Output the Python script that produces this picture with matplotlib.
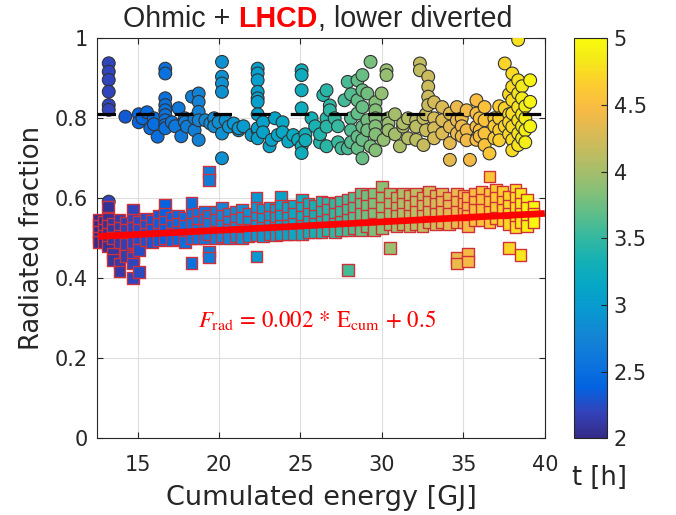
import matplotlib
matplotlib.use("Agg")
import matplotlib.pyplot as plt
import numpy as np
from matplotlib.colors import LinearSegmentedColormap, Normalize

# ---------------- data ----------------
# circles (upper cluster): column energy [GJ], time [h], radiated fractions
circ_E = [13.23, 14.25, 15.07, 15.3, 15.58, 15.78, 16.0, 16.23, 16.7, 17.1, 17.3, 17.52, 17.68,
          17.9, 18.03, 18.34, 18.5, 18.75, 19.16, 19.46, 19.7, 19.97, 20.18, 20.4, 20.6, 20.9,
          21.2, 21.5, 22.0, 22.37, 22.7, 23.1, 23.23, 23.43, 23.6, 23.9, 24.25, 24.55, 24.85,
          25.07, 25.3, 25.68, 25.9, 26.2, 26.4, 26.6, 26.8, 27.1, 27.3, 27.52, 27.7, 27.9,
          28.1, 28.5, 28.8, 29.1, 29.3, 29.6, 29.98, 30.1, 30.28, 30.4, 30.8, 31.1, 31.3,
          31.6, 32.1, 32.33, 32.55, 32.7, 32.84, 33.2, 33.7, 34.17, 34.6, 34.9, 35.2, 35.4,
          35.8, 36.0, 36.3, 36.6, 36.9, 37.2, 37.54, 37.8, 38.0, 38.36, 38.6, 38.8, 39.1]
circ_t = [2.2, 2.33, 2.42, 2.44, 2.46, 2.48, 2.5, 2.51, 2.55, 2.58, 2.6, 2.62, 2.63,
          2.65, 2.66, 2.68, 2.7, 2.73, 2.78, 2.8, 2.83, 2.86, 2.88, 2.9, 2.92, 2.95,
          2.97, 3.0, 3.03, 3.05, 3.08, 3.1, 3.1, 3.12, 3.13, 3.15, 3.18, 3.2, 3.22,
          3.25, 3.28, 3.32, 3.35, 3.4, 3.42, 3.45, 3.47, 3.5, 3.52, 3.55, 3.58, 3.6,
          3.63, 3.7, 3.73, 3.78, 3.8, 3.85, 3.9, 3.92, 3.93, 3.95, 4.0, 4.03, 4.05,
          4.08, 4.12, 4.15, 4.17, 4.18, 4.2, 4.25, 4.3, 4.35, 4.38, 4.41, 4.44, 4.45,
          4.5, 4.52, 4.55, 4.58, 4.62, 4.66, 4.7, 4.73, 4.75, 4.8, 4.84, 4.88, 4.92]
circ_vals = [
    [0.9375, 0.9165, 0.896, 0.8665, 0.833, 0.821, 0.5915], [0.804], [0.81, 0.79], [0.80],
    [0.815], [0.775], [0.80, 0.785], [0.754],
    [0.924, 0.912, 0.85, 0.833, 0.82, 0.808, 0.795, 0.783, 0.775], [0.79], [0.78], [0.825], [0.755],
    [0.80, 0.79], [0.779], [0.854], [0.77, 0.80],
    [0.862, 0.841, 0.816, 0.795, 0.746], [0.795], [0.787], [0.80, 0.78], [0.79],
    [0.941, 0.904, 0.887, 0.866, 0.762, 0.70], [0.795], [0.779], [0.787],
    [0.77, 0.775], [0.78], [0.758],
    [0.924, 0.912, 0.895, 0.866, 0.85, 0.841, 0.81, 0.77, 0.775, 0.75], [0.79, 0.765],
    [0.73], [0.746], [0.80], [0.758], [0.79, 0.765], [0.742], [0.758], [0.746],
    [0.92, 0.908, 0.87, 0.825, 0.73, 0.713], [0.76, 0.745], [0.80], [0.78], [0.74, 0.76],
    [0.858], [0.87, 0.80, 0.779, 0.73], [0.832, 0.82], [0.80], [0.78, 0.74],
    [0.725], [0.845], [0.891, 0.725],
    [0.86, 0.80, 0.77, 0.74], [0.895, 0.845, 0.812, 0.754, 0.725],
    [0.908, 0.87, 0.828, 0.779, 0.746, 0.70], [0.862, 0.795, 0.77], [0.941, 0.73],
    [0.84, 0.82, 0.80, 0.78, 0.76, 0.72], [0.862], [0.746], [0.92, 0.908], [0.80, 0.787, 0.77],
    [0.81, 0.76], [0.73], [0.779, 0.787],
    [0.80, 0.75], [0.795, 0.779, 0.746], [0.937, 0.92], [0.80, 0.733], [0.77, 0.81],
    [0.904, 0.879, 0.854, 0.833], [0.84, 0.80, 0.775, 0.75], [0.828, 0.795, 0.762],
    [0.812, 0.779, 0.738, 0.696], [0.828, 0.795, 0.762], [0.80, 0.78, 0.755],
    [0.82, 0.77, 0.745], [0.696],
    [0.845, 0.812, 0.779, 0.746], [0.80, 0.77, 0.755], [0.828, 0.795, 0.762, 0.733], [0.712],
    [0.80, 0.78, 0.75], [0.83, 0.80, 0.77, 0.745],
    [0.937, 0.825, 0.78], [0.86, 0.81, 0.79, 0.76], [0.912, 0.879, 0.845, 0.812, 0.779, 0.746, 0.72],
    [0.996, 0.895, 0.862, 0.828, 0.795, 0.762, 0.733], [0.88, 0.85, 0.81, 0.78, 0.75],
    [0.83, 0.80, 0.77, 0.74], [0.895, 0.841, 0.78],
]

# squares (lower cluster): column energy [GJ], time [h], radiated fractions
sq_E = [12.6, 12.9, 13.2, 13.5, 13.9, 14.3, 14.7, 15.1, 15.5, 15.9, 16.3, 16.7, 17.1, 17.5,
        17.9, 18.3, 18.7, 19.1, 19.4, 19.8, 20.2, 20.6, 21.0, 21.4, 21.8, 22.3, 22.7, 23.1,
        23.5, 23.8, 24.2, 24.6, 25.1, 25.5, 25.9, 26.3, 26.7, 27.1, 27.5, 27.9, 28.3, 28.7,
        29.1, 29.5, 30.0, 30.5, 30.9, 31.3, 31.7, 32.1, 32.5, 32.9, 33.3, 33.7, 34.1, 34.6,
        35.0, 35.3, 35.7, 36.1, 36.6, 37.0, 37.4, 37.8, 38.2, 38.5, 38.9, 39.3]
sq_t = [2.0, 2.03, 2.06, 2.1, 2.13, 2.16, 2.2, 2.24, 2.27, 2.3, 2.34, 2.38, 2.42, 2.46,
        2.5, 2.54, 2.58, 2.62, 2.66, 2.7, 2.74, 2.78, 2.82, 2.86, 2.9, 2.95, 2.99, 3.03,
        3.07, 3.1, 3.14, 3.18, 3.23, 3.28, 3.33, 3.38, 3.43, 3.48, 3.53, 3.58, 3.64, 3.7,
        3.76, 3.82, 3.88, 3.94, 3.99, 4.04, 4.08, 4.12, 4.16, 4.2, 4.24, 4.3, 4.34, 4.38,
        4.42, 4.45, 4.5, 4.54, 4.58, 4.63, 4.68, 4.73, 4.78, 4.83, 4.9, 4.97]
sq_vals = [
    [0.545, 0.53, 0.515, 0.50, 0.49], [0.54, 0.522, 0.505, 0.49],
    [0.579, 0.548, 0.53, 0.512, 0.495, 0.479], [0.535, 0.52, 0.50, 0.462, 0.445],
    [0.545, 0.525, 0.505, 0.49, 0.437, 0.417], [0.538, 0.52, 0.50, 0.485, 0.455],
    [0.572, 0.545, 0.525, 0.49, 0.452, 0.437, 0.40], [0.54, 0.52, 0.50, 0.47, 0.415],
    [0.548, 0.53, 0.51, 0.495], [0.543, 0.522, 0.50, 0.49],
    [0.555, 0.535, 0.512, 0.496], [0.584, 0.56, 0.54, 0.52, 0.50],
    [0.55, 0.53, 0.51, 0.495], [0.556, 0.535, 0.515, 0.498],
    [0.55, 0.53, 0.505, 0.49], [0.588, 0.558, 0.535, 0.50, 0.4375],
    [0.56, 0.54, 0.52, 0.50], [0.565, 0.545, 0.52, 0.50],
    [0.666, 0.646, 0.555, 0.535, 0.51, 0.467, 0.452], [0.565, 0.545, 0.515, 0.50],
    [0.575, 0.555, 0.53, 0.505], [0.56, 0.54, 0.52, 0.50],
    [0.565, 0.545, 0.525, 0.505], [0.57, 0.55, 0.51, 0.50],
    [0.56, 0.54, 0.52, 0.505], [0.60, 0.575, 0.55, 0.53, 0.508, 0.454],
    [0.57, 0.548, 0.525, 0.505], [0.575, 0.553, 0.53, 0.51],
    [0.57, 0.55, 0.525, 0.508], [0.604, 0.58, 0.555, 0.53, 0.51],
    [0.575, 0.55, 0.53, 0.51], [0.58, 0.56, 0.535, 0.51],
    [0.596, 0.575, 0.553, 0.53, 0.51], [0.585, 0.56, 0.54, 0.515],
    [0.58, 0.555, 0.535, 0.515], [0.59, 0.565, 0.54, 0.515],
    [0.588, 0.57, 0.545, 0.52], [0.585, 0.56, 0.535, 0.515],
    [0.59, 0.565, 0.54, 0.52], [0.595, 0.57, 0.545, 0.52, 0.421],
    [0.60, 0.575, 0.55, 0.525], [0.61, 0.585, 0.56, 0.53, 0.52],
    [0.605, 0.58, 0.555, 0.53], [0.61, 0.585, 0.56, 0.535, 0.52],
    [0.629, 0.60, 0.575, 0.55, 0.525], [0.61, 0.585, 0.56, 0.535, 0.475],
    [0.60, 0.575, 0.555, 0.53], [0.61, 0.585, 0.56, 0.535],
    [0.605, 0.58, 0.555, 0.53], [0.61, 0.59, 0.565, 0.535],
    [0.60, 0.58, 0.555, 0.53], [0.615, 0.59, 0.565, 0.54],
    [0.605, 0.585, 0.56, 0.535], [0.61, 0.59, 0.565, 0.54],
    [0.60, 0.58, 0.56, 0.535], [0.61, 0.59, 0.565, 0.54, 0.45, 0.437],
    [0.605, 0.585, 0.56, 0.54], [0.60, 0.575, 0.555, 0.53, 0.462, 0.442],
    [0.61, 0.59, 0.57, 0.545], [0.615, 0.595, 0.57, 0.545],
    [0.654, 0.612, 0.59, 0.565, 0.54], [0.62, 0.60, 0.575, 0.55],
    [0.615, 0.59, 0.57, 0.545], [0.604, 0.58, 0.56, 0.535, 0.475],
    [0.62, 0.60, 0.575, 0.55, 0.528], [0.61, 0.585, 0.56, 0.54, 0.458],
    [0.595, 0.575, 0.55, 0.53], [0.579, 0.56, 0.54],
]

# linear fit of the lower cluster and mean of the upper cluster
fit_slope = 0.0021
fit_intercept = 0.478
fit_E_range = [12.6, 40.0]
mean_upper = 0.81

xticks = [15, 20, 25, 30, 35, 40]
yticks = [0, 0.2, 0.4, 0.6, 0.8, 1]
yticklabels = ["0", "0.2", "0.4", "0.6", "0.8", "1"]
cticks = [2, 2.5, 3, 3.5, 4, 4.5, 5]
cticklabels = ["2", "2.5", "3", "3.5", "4", "4.5", "5"]

# parula-like colormap
parula_pts = [
    (0.2081, 0.1663, 0.5292), (0.1959, 0.2645, 0.7279), (0.0117, 0.3875, 0.8820),
    (0.0498, 0.4586, 0.8641), (0.0793, 0.5200, 0.8312), (0.0343, 0.5966, 0.8199),
    (0.0228, 0.6535, 0.7768), (0.0843, 0.6928, 0.7062), (0.2178, 0.7250, 0.6193),
    (0.3953, 0.7459, 0.5244), (0.5709, 0.7485, 0.4494), (0.7184, 0.7411, 0.3905),
    (0.8507, 0.7299, 0.3360), (0.9739, 0.7314, 0.2666), (0.9880, 0.8066, 0.1794),
    (0.9598, 0.9218, 0.0948), (0.9763, 0.9831, 0.0538)]
parula_pos = [0, 4, 8, 12, 16, 20, 24, 28, 32, 36, 40, 44, 48, 52, 56, 60, 63]
parula = LinearSegmentedColormap.from_list(
    "parula", [(p / 63.0, c) for p, c in zip(parula_pos, parula_pts)])

# ---------------- figure ----------------
TXT = "#262626"
plt.rcParams["font.family"] = "DejaVu Sans"
fig = plt.figure(figsize=(6.76, 5.15), dpi=100)
ax = fig.add_axes([0.144, 0.149, 0.662, 0.7767])
norm = Normalize(vmin=2, vmax=5)

cx, cy, cc = [], [], []
for e, t, vals in zip(circ_E, circ_t, circ_vals):
    for v in vals:
        cx.append(e); cy.append(v); cc.append(t)
sx, sy, sc = [], [], []
for e, t, vals in zip(sq_E, sq_t, sq_vals):
    for v in vals:
        sx.append(e); sy.append(v); sc.append(t)

ax.scatter(cx, cy, c=cc, cmap=parula, norm=norm, marker="o", s=85,
           edgecolors="#333333", linewidths=0.8, zorder=3)
ax.scatter(sx, sy, c=sc, cmap=parula, norm=norm, marker="s", s=70,
           edgecolors="#d03038", linewidths=1.0, zorder=4, clip_on=False)

fx = np.array(fit_E_range)
ax.plot(fx, fit_slope * fx + fit_intercept, color="#ff0000", lw=4.8,
        solid_capstyle="butt", zorder=5)
ax.plot([12.53, 40], [mean_upper, mean_upper], color="black", lw=2.3,
        dashes=(5.8, 6.3), zorder=6)

ax.text(26.0, 0.296,
        r"$F_{\mathrm{rad}}\,=\,0.002\,*\,\mathrm{E}_{\mathrm{cum}}\,+\,0.5$",
        color="#ff0000", fontsize=16.5, ha="center", va="center",
        math_fontfamily="stix", zorder=7)

ax.set_xlim(12.53, 40)
ax.set_ylim(0, 1)
ax.set_xticks(xticks)
ax.set_yticks(yticks)
ax.set_yticklabels(yticklabels)
ax.grid(True, color="#dedede", lw=0.8)
ax.set_axisbelow(True)
ax.tick_params(direction="in", length=4, width=0.8, colors=TXT, labelsize=15,
               top=True, right=True, pad=7)
ax.tick_params(axis="x", pad=12)
for sp in ax.spines.values():
    sp.set_color(TXT)
    sp.set_linewidth(0.8)
ax.set_xlabel("Cumulated energy [GJ]", fontsize=19.5, color=TXT, labelpad=7)
ax.set_ylabel("Radiated fraction", fontsize=18.7, color=TXT, labelpad=7)

# colorbar
cax = fig.add_axes([0.849, 0.149, 0.0484, 0.7767])
sm = matplotlib.cm.ScalarMappable(norm=norm, cmap=parula)
cb = fig.colorbar(sm, cax=cax, ticks=cticks)
cb.ax.set_yticklabels(cticklabels)
cb.ax.tick_params(direction="in", length=4, width=0.8, colors=TXT, labelsize=15, pad=5)
cb.outline.set_edgecolor(TXT)
cb.outline.set_linewidth(0.8)
fig.text(0.887, 0.072, "t [h]", fontsize=18.5, color=TXT, ha="center", va="center")

# title in three colours
tfam = "Liberation Sans"
tsize = 20.6
t1 = fig.text(0.182, 1 - 27 / 515, "Ohmic + ", fontsize=tsize, color=TXT,
              family=tfam, va="baseline", ha="left")
t2 = ax.annotate("LHCD", xy=(1, 0), xycoords=t1, fontsize=tsize, color="#ff0000",
                 fontweight="bold", family=tfam, va="bottom", ha="left",
                 annotation_clip=False)
t3 = ax.annotate(", lower diverted", xy=(1, 0), xycoords=t2, fontsize=tsize,
                 color=TXT, family=tfam, va="bottom", ha="left",
                 annotation_clip=False)

fig.savefig("out.png", dpi=100, facecolor="white")
